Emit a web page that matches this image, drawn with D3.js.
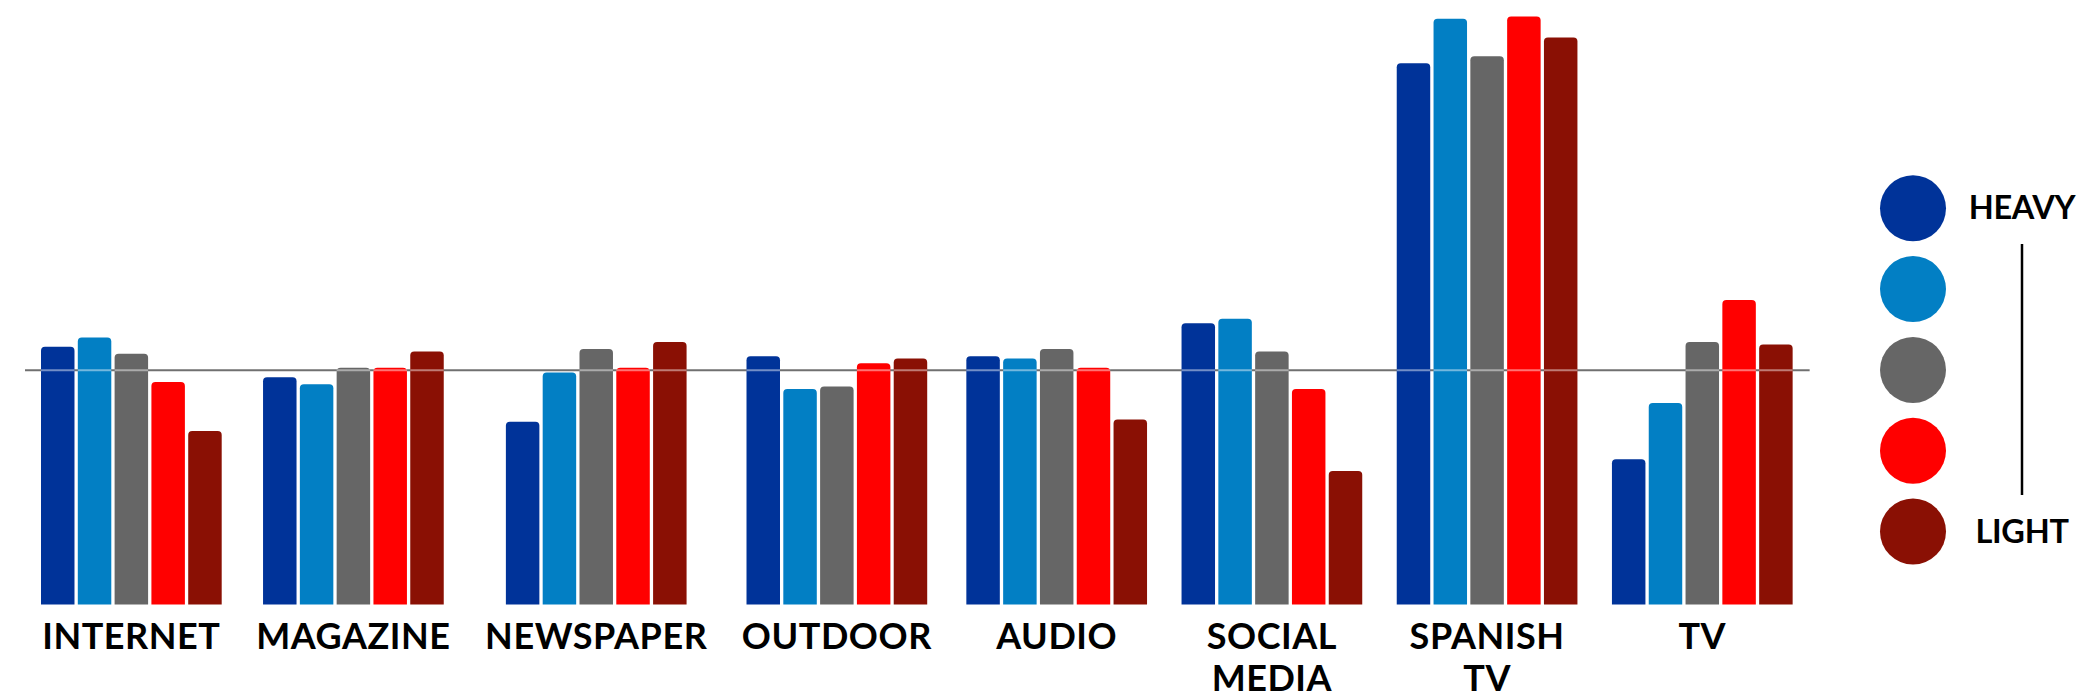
<!DOCTYPE html>
<html>
<head>
<meta charset="utf-8">
<script src="https://cdn.jsdelivr.net/npm/d3@7"></script>
<style>
  body { margin: 0; background: #fff; }
  svg { display: block; }
  .cat { font-family: Lato, sans-serif; font-weight: 700; font-size: 36px; letter-spacing: 0.55px; fill: #000; }
  .leg { font-family: Lato, sans-serif; font-weight: 700; font-size: 32.5px; letter-spacing: -0.3px; fill: #000; }
</style>
</head>
<body>
<svg id="chart" width="2089" height="698"></svg>
<script>
// media categories (label lines)
const categories = [["INTERNET"], ["MAGAZINE"], ["NEWSPAPER"], ["OUTDOOR"], ["AUDIO"],
                    ["SOCIAL", "MEDIA"], ["SPANISH", "TV"], ["TV"]]
// five viewer segments, heavy -> light
const segments = ["heavy", "medHeavy", "medium", "medLight", "light"]
const segColors = ["#003399", "#027fc4", "#666666", "#ff0000", "#8a1004"]
// index values (100 = average) per category, one per segment
const heavy    = [110, 97, 78, 106, 106, 120, 231, 62]
const medHeavy = [114, 94, 99, 92, 105, 122, 250, 86]
const medium   = [107, 101, 109, 93, 109, 108, 234, 112]
const medLight = [95, 101, 101, 103, 101, 92, 251, 130]
const light    = [74, 108, 112, 105, 79, 57, 242, 111]
const legendTop = "HEAVY", legendBottom = "LIGHT"

const series = [heavy, medHeavy, medium, medLight, light]
const data = categories.map((c, i) => ({
    label: c,
    values: segments.map((s, j) => ({seg: s, value: series[j][i]}))
}))

const svg = d3.select("#chart")
const baseY = 604.5
const y = d3.scaleLinear().domain([0, 258]).range([baseY, 0])

const groupW = 180.7, gap = 34.5, left = 41
const x1 = d3.scaleBand().domain(segments).range([0, groupW]).paddingInner(0.09)
const color = d3.scaleOrdinal().domain(segments).range(segColors)

// labels first, so the group cells can be sized by their widths
const groups = svg.selectAll(".grp").data(data).join("g").attr("class", "grp")
const labels = groups.append("text").attr("class", "cat").attr("text-anchor", "middle")
labels.selectAll("tspan").data(d => d.label).join("tspan")
    .attr("x", 0)
    .attr("y", (d, i) => 648.5 + i * 42)
    .text(d => d)
groups.each(function(d) {
    const w = d3.max(d3.select(this).selectAll("tspan").nodes(), n => n.getComputedTextLength())
    d.cell = Math.max(groupW, w)
})
let cursor = left
data.forEach(d => {
    d.x = cursor + (d.cell - groupW) / 2
    cursor += d.cell + gap
})
groups.attr("transform", d => `translate(${d.x},0)`)
labels.attr("transform", `translate(${groupW / 2},0)`)

const lineX0 = data[0].x - 16
const lineX1 = data[data.length - 1].x + groupW + 17

// reference line (index = 100), behind the bars
svg.insert("line", ".grp")
    .attr("x1", lineX0).attr("x2", lineX1)
    .attr("y1", y(100)).attr("y2", y(100))
    .attr("stroke", "#707070").attr("stroke-width", 2)

const r = 4
function barPath(d) {
    const x0 = x1(d.seg), w = x1.bandwidth(), top = y(d.value)
    return `M${x0},${baseY} V${top + r} Q${x0},${top} ${x0 + r},${top} H${x0 + w - r} Q${x0 + w},${top} ${x0 + w},${top + r} V${baseY} Z`
}
groups.selectAll(".bar").data(d => d.values).join("path")
    .attr("class", "bar")
    .attr("d", barPath)
    .attr("fill", d => color(d.seg))

// light trace of the reference line where it crosses a bar
groups.selectAll(".cross").data(d => d.values.filter(v => v.value > 100)).join("line")
    .attr("class", "cross")
    .attr("x1", d => x1(d.seg)).attr("x2", d => x1(d.seg) + x1.bandwidth())
    .attr("y1", y(100)).attr("y2", y(100))
    .attr("stroke", "rgba(255,255,255,0.45)").attr("stroke-width", 2)

// legend
const ly = d3.scalePoint().domain(segments).range([208.3, 531.5])
const legend = svg.append("g")
legend.selectAll("circle").data(segments).join("circle")
    .attr("cx", 1913).attr("cy", d => ly(d)).attr("r", 33)
    .attr("fill", d => color(d))
legend.append("text").attr("class", "leg").attr("text-anchor", "middle")
    .attr("x", 2022).attr("y", 219).text(legendTop)
legend.append("text").attr("class", "leg").attr("text-anchor", "middle")
    .attr("x", 2022).attr("y", 542.5).text(legendBottom)
legend.append("line")
    .attr("x1", 2022).attr("x2", 2022).attr("y1", 244).attr("y2", 495)
    .attr("stroke", "#000").attr("stroke-width", 2.5)
</script>
</body>
</html>
